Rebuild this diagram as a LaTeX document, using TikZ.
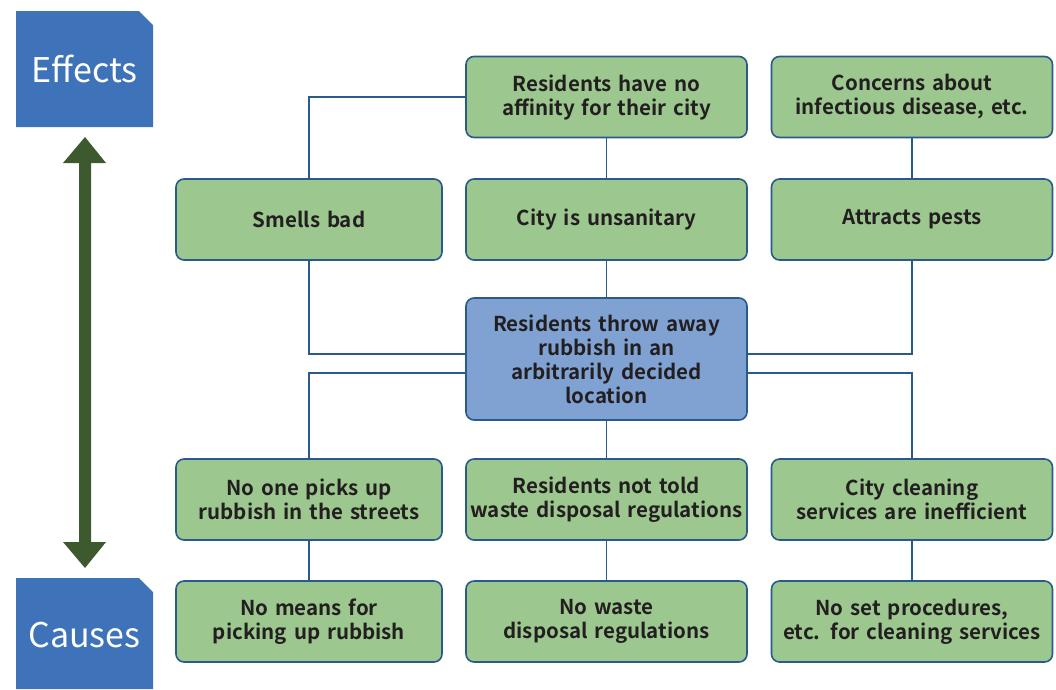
\documentclass[tikz,border=0pt]{standalone}
\usepackage{fontspec}
\setmainfont{Noto Sans CJK JP}[BoldFont={Noto Sans CJK JP Bold}]
\definecolor{lblue}{HTML}{3F73B9}
\definecolor{gfill}{HTML}{9CC78F}
\definecolor{bfill}{HTML}{7FA2D3}
\definecolor{edge}{HTML}{285A8C}
\definecolor{txt}{HTML}{231F20}
\definecolor{arr}{HTML}{3C5A2E}
\begin{document}
\begin{tikzpicture}[x=1pt,y=-1pt,
  box/.style={draw=edge,line width=1.6pt,rounded corners=8pt,fill=gfill,
    text=txt,font=\bfseries\fontsize{20.5}{24}\selectfont,align=center,
    minimum height=81pt,inner sep=2pt},
  wbox/.style={box,minimum width=281pt,text width=277pt},
  sbox/.style={box,minimum width=266pt,text width=262pt},
  cbox/.style={box,fill=bfill,minimum width=281pt,minimum height=122pt,text width=277pt},
  conn/.style={draw=edge,line width=1.5pt},
  lbl/.style={text=white,font=\fontsize{34}{38}\selectfont}]
\useasboundingbox (0,0) rectangle (1056,689);
% tags
\fill[lblue] (16,11) -- (139,11) -- (153,25) -- (153,127) -- (16,127) -- cycle;
\node[lbl] (eff) at (84.5,69) {Effects};
\fill[lblue] (16,578) -- (139,578) -- (153,592) -- (153,689) -- (16,689) -- cycle;
\node[lbl] (cau) at (84.5,635) {Causes};
% double arrow
\fill[arr] (85,137) -- (106,163) -- (91,163) -- (91,542) -- (106,542) -- (85,568)
  -- (63,542) -- (79,542) -- (79,163) -- (63,163) -- cycle;
% boxes
\node[wbox] (aff) at (606.5,97) {Residents have no\\affinity for their city};
\node[wbox] (inf) at (912,97) {Concerns about\\infectious disease, etc.};
\node[sbox] (sme) at (309,219.5) {Smells bad};
\node[wbox] (uns) at (606.5,219.5) {City is unsanitary};
\node[wbox] (pes) at (912,219.5) {Attracts pests};
\node[cbox] (ctr) at (606.5,359) {Residents throw away\\rubbish in an\\arbitrarily decided\\location};
\node[sbox] (pick) at (309,499.5) {No one picks up\\rubbish in the streets};
\node[wbox] (told) at (606.5,499.5) {Residents not told\\waste disposal regulations};
\node[wbox] (clean) at (912,499.5) {City cleaning\\services are inefficient};
\node[sbox] (mean) at (309,621.5) {No means for\\picking up rubbish};
\node[wbox] (reg) at (606.5,621.5) {No waste\\disposal regulations};
\node[wbox] (proc) at (912,621.5) {No set procedures,\\etc. for cleaning services};
% connectors
\draw[conn] (ctr.north) -- (uns.south);
\draw[conn] (uns.north) -- (aff.south);
\draw[conn] (aff.west) -| (sme.north);
\draw[conn] (inf.south) -- (pes.north);
\draw[conn] (sme.south) |- ([yshift=5pt]ctr.west);
\draw[conn] (pes.south) |- ([yshift=5pt]ctr.east);
\draw[conn] ([yshift=-14pt]ctr.west) -| (pick.north);
\draw[conn] ([yshift=-14pt]ctr.east) -| (clean.north);
\draw[conn] (ctr.south) -- (told.north);
\draw[conn] (pick.south) -- (mean.north);
\draw[conn] (told.south) -- (reg.north);
\draw[conn] (clean.south) -- (proc.north);
\end{tikzpicture}
\end{document}
